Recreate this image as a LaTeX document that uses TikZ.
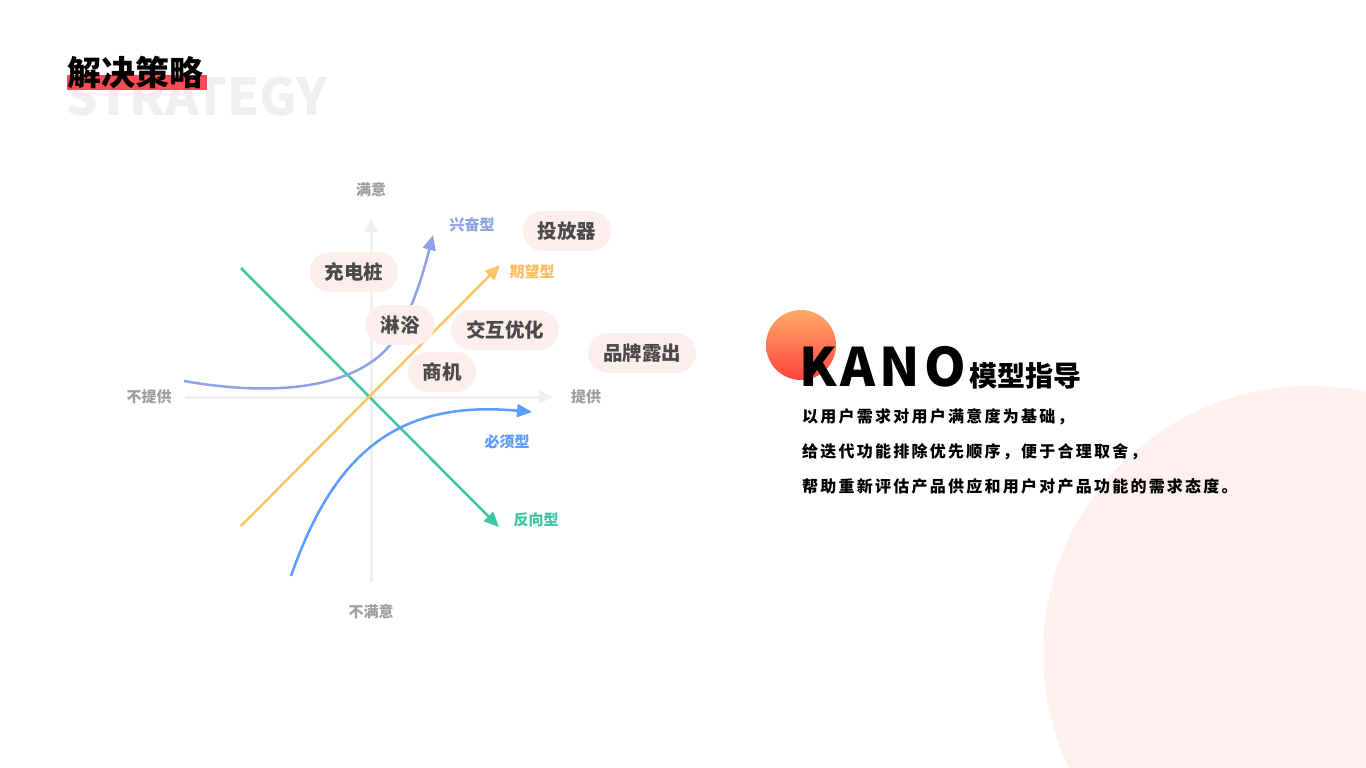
\documentclass[tikz,border=0pt]{standalone}
\usepackage{fontspec}
\setmainfont{Noto Sans CJK SC}
\newfontfamily\kanofont{Noto Sans CJK SC}[LetterSpace=8]
\newfontfamily\bodyfont{Noto Sans CJK SC}[LetterSpace=14]
\usetikzlibrary{arrows.meta}

\definecolor{axisgray}{HTML}{EFEFEF}
\definecolor{labelgray}{HTML}{9E9E9E}
\definecolor{pillpink}{HTML}{FDEEEE}
\definecolor{pilltext}{HTML}{4A4A4A}
\definecolor{excite}{HTML}{8EA3E6}
\definecolor{expect}{HTML}{FFC466}
\definecolor{must}{HTML}{5A9CFF}
\definecolor{reverse}{HTML}{3CC6A4}
\definecolor{titlered}{HTML}{F84B55}
\definecolor{bigpink}{HTML}{FDF0EF}

\begin{document}
\begin{tikzpicture}[x=1pt,y=-1pt,
    pill/.style={fill=pillpink,rounded corners=20pt,minimum height=40pt,inner xsep=15pt,
                 text=pilltext,font=\fontsize{19.5}{21}\selectfont\bfseries},
    axislabel/.style={text=labelgray,font=\fontsize{15}{16}\selectfont\bfseries},
    curvelabel/.style={font=\fontsize{15}{16}\selectfont\bfseries},
    curve/.style={line width=2.5pt,-{Triangle[length=15pt,width=13pt]}},
    axis/.style={draw=axisgray,line width=3pt,-{Triangle[length=14pt,width=13pt]}}]
                    \useasboundingbox[fill=white] (0,0) rectangle (1366,768);

                    % background shapes
                    \fill[bigpink] (1310,653) circle (267);
                    \shade[top color={rgb,255:red,255;green,170;blue,106},bottom color={rgb,255:red,255;green,68;blue,58}]
                        (801,345) circle (35);

                    % heading
                    \node[anchor=west,text=axisgray,font=\fontsize{51}{53}\selectfont\bfseries] (strategy) at (62,97) {STRATEGY};
                    \fill[titlered] (67,75) rectangle (207,90);
                    \node[anchor=west,font=\fontsize{34}{36}\selectfont\bfseries,inner sep=0pt] (title) at (67,72) {解决策略};

                    % axes
                    \coordinate (xl) at (185,397);
                    \coordinate (xr) at (553,397);
                    \coordinate (yb) at (371,582);
                    \coordinate (yt) at (371,218);
                    \draw[axis] (xl) -- (xr);
                    \draw[axis] (yb) -- (yt);
                    \node[axislabel] (sat) at (371,190) {满意};
                    \node[axislabel] (unsat) at (371,612) {不满意};
                    \node[axislabel] (nopro) at (149,397) {不提供};
                    \node[axislabel] (pro) at (586,397) {提供};

                    % kano curves
                    \coordinate (rv-s) at (241,268);
                    \coordinate (rv-e) at (499,527);
                    \coordinate (ep-s) at (241,526);
                    \coordinate (ep-e) at (500,265);
                    \coordinate (ex-s) at (184,381);
                    \coordinate (ex-m) at (400,330);
                    \coordinate (ex-e) at (433,235);
                    \coordinate (ms-s) at (291,576);
                    \coordinate (ms-e) at (532,412);
                    \draw[curve,draw=reverse] (rv-s) -- (rv-e);
                    \draw[curve,draw=expect] (ep-s) -- (ep-e);
                    \draw[curve,draw=excite] (ex-s) .. controls (280,398) and (370,388) .. (ex-m)
                        .. controls (418,295) and (426,262) .. (ex-e);
                    \draw[curve,draw=must] (ms-s) .. controls (335,450) and (400,400) .. (ms-e);

                    \node[curvelabel,text=excite] (exlab) at (472,225) {兴奋型};
                    \node[curvelabel,text=expect!90!orange] (eplab) at (532,272) {期望型};
                    \node[curvelabel,text=must] (mslab) at (507,442) {必须型};
                    \node[curvelabel,text=reverse] (rvlab) at (536,520) {反向型};

                    % features
                    \node[pill] (charge) at (354,272) {充电桩};
                    \node[pill] (launch) at (567,231) {投放器};
                    \node[pill] (shower) at (400,325) {淋浴};
                    \node[pill] (interact) at (505,330) {交互优化};
                    \node[pill] (business) at (442,372) {商机};
                    \node[pill] (brand) at (642,353) {品牌露出};

                    % kano text
                    \node[anchor=west,inner sep=0pt,font=\fontsize{53}{55}\selectfont\bfseries\kanofont] (kano) at (799,367) {KANO};
                    \node[anchor=west,inner sep=0pt,font=\fontsize{28}{30}\selectfont\bfseries] (model) at (969,376) {模型指导};
                    \node[anchor=west,inner sep=0pt,font=\fontsize{16}{18}\selectfont\bfseries\bodyfont] (line1) at (802,417) {以用户需求对用户满意度为基础，};
                    \node[anchor=west,inner sep=0pt,font=\fontsize{16}{18}\selectfont\bfseries\bodyfont] (line2) at (802,452) {给迭代功能排除优先顺序，便于合理取舍，};
                    \node[anchor=west,inner sep=0pt,font=\fontsize{16}{18}\selectfont\bfseries\bodyfont] (line3) at (802,486) {帮助重新评估产品供应和用户对产品功能的需求态度。};
                \end{tikzpicture}
\end{document}
